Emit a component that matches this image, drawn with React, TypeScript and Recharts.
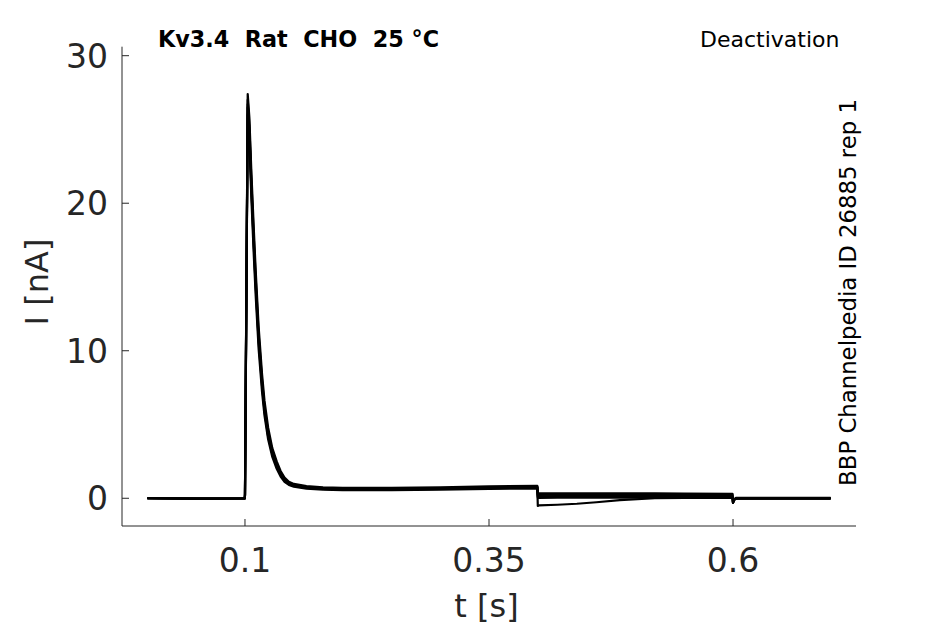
import React from 'react';
import { LineChart, Line, XAxis, YAxis } from 'recharts';

const tValues = [0, 0.05, 0.0998, 0.1, 0.1028, 0.1045, 0.1065, 0.109, 0.111, 0.114, 0.1175, 0.12, 0.1237, 0.128, 0.1325, 0.1365, 0.1405, 0.145, 0.15, 0.163, 0.18, 0.2, 0.25, 0.3, 0.35, 0.3995, 0.4, 0.401, 0.42, 0.44, 0.46, 0.484, 0.52, 0.55, 0.5995, 0.6, 0.601, 0.603, 0.65, 0.7];

const traceA = [0, -0.02, 0, 0.3, 27.4, 25.8, 22.2, 18.3, 15.4, 11.6, 8.4, 6.6, 4.8, 3.4, 2.5, 1.85, 1.4, 1.12, 0.97, 0.82, 0.74, 0.7, 0.7, 0.74, 0.8, 0.85, 0.34, 0.33, 0.34, 0.34, 0.33, 0.33, 0.33, 0.32, 0.3, -0.3, -0.1, 0.03, 0.03, 0.02];
const traceB = [0, -0.03, -0.01, 0.25, 27.0, 25.3, 21.6, 17.7, 14.9, 11.1, 8.0, 6.2, 4.5, 3.2, 2.3, 1.7, 1.3, 1.04, 0.9, 0.76, 0.68, 0.64, 0.64, 0.68, 0.74, 0.78, 0.24, 0.23, 0.24, 0.24, 0.24, 0.23, 0.23, 0.22, 0.21, -0.28, -0.1, 0.0, 0.0, 0.0];
const traceC = [0, -0.02, -0.01, 0.2, 26.5, 24.7, 21.0, 17.1, 14.3, 10.6, 7.6, 5.9, 4.2, 3.0, 2.15, 1.58, 1.2, 0.96, 0.84, 0.7, 0.63, 0.59, 0.59, 0.63, 0.69, 0.72, 0.14, 0.13, 0.14, 0.14, 0.14, 0.14, 0.13, 0.13, 0.12, -0.3, -0.12, -0.02, -0.02, -0.02];
const traceD = [0, -0.03, -0.02, 0.2, 26.0, 24.1, 20.4, 16.5, 13.7, 10.1, 7.2, 5.6, 4.0, 2.8, 2.0, 1.47, 1.12, 0.9, 0.78, 0.65, 0.58, 0.55, 0.55, 0.59, 0.64, 0.67, 0.04, 0.03, 0.04, 0.04, 0.04, 0.04, 0.04, 0.03, 0.03, -0.32, -0.12, -0.03, -0.03, -0.03];
const traceE = [0, -0.02, 0, 0.22, 26.7, 24.9, 21.2, 17.3, 14.5, 10.8, 7.8, 6.0, 4.3, 3.05, 2.2, 1.62, 1.24, 0.99, 0.86, 0.72, 0.65, 0.61, 0.62, 0.66, 0.72, 0.75, -0.52, -0.48, -0.44, -0.37, -0.27, -0.12, 0.0, 0.02, 0.03, -0.3, -0.1, 0.0, 0.0, 0.0];

const xTicks = [0.1, 0.35, 0.6];
const yTicks = [0, 10, 20, 30];
const seriesKeys = ['a', 'b', 'c', 'd', 'e'];

const data = tValues.map((t, i) => ({
  t,
  a: traceA[i],
  b: traceB[i],
  c: traceC[i],
  d: traceD[i],
  e: traceE[i],
}));

const AXIS = '#262626';
const FONT = '"DejaVu Sans", Verdana, sans-serif';

const XTick = (props: any) => {
  const { x, y, payload } = props;
  return (
    <g>
      <line x1={x} x2={x} y1={y} y2={y - 7} stroke={AXIS} strokeWidth={1} />
      <text x={x} y={y + 45.7} textAnchor="middle" fontSize={33} fill={AXIS} fontFamily={FONT}>
        {String(payload.value)}
      </text>
    </g>
  );
};

const YTick = (props: any) => {
  const { x, y, payload } = props;
  return (
    <g>
      <line x1={x} x2={x + 7} y1={y} y2={y} stroke={AXIS} strokeWidth={1} />
      <text x={x - 14} y={y + 12} textAnchor="end" fontSize={33} fill={AXIS} fontFamily={FONT}>
        {String(payload.value)}
      </text>
    </g>
  );
};

export default function App() {
  return (
    <div style={{ position: 'relative', width: 945, height: 624, background: '#fff' }}>
      <style>{`body{margin:0;}`}</style>
      <LineChart
        width={945}
        height={624}
        data={data}
        margin={{ top: 46.7, right: 89, bottom: 97, left: 121 }}
      >
        <XAxis
          dataKey="t"
          type="number"
          domain={[-0.026, 0.726]}
          ticks={xTicks}
          allowDataOverflow
          height={1}
          tickSize={0}
          tickMargin={0}
          tickLine={false}
          axisLine={{ stroke: AXIS, strokeWidth: 1 }}
          tick={<XTick />}
          interval={0}
        />
        <YAxis
          type="number"
          domain={[-1.88, 30.61]}
          ticks={yTicks}
          allowDataOverflow
          width={1}
          tickSize={0}
          tickMargin={0}
          tickLine={false}
          axisLine={{ stroke: AXIS, strokeWidth: 1 }}
          tick={<YTick />}
          interval={0}
        />
        {seriesKeys.map((k) => (
          <Line
            key={k}
            type="linear"
            dataKey={k}
            stroke="#000"
            strokeWidth={2.2}
            dot={false}
            isAnimationActive={false}
            strokeLinejoin="round"
          />
        ))}
      </LineChart>
      <svg
        width={945}
        height={624}
        style={{ position: 'absolute', left: 0, top: 0, pointerEvents: 'none' }}
      >
        <text x={158} y={46.7} fontSize={22.3} fontWeight="bold" fill="#000" fontFamily={FONT} style={{ whiteSpace: 'pre' }}>
          {'Kv3.4  Rat  CHO  25 °C'}
        </text>
        <text x={839.5} y={46.7} fontSize={22} textAnchor="end" fill="#000" fontFamily={FONT}>
          Deactivation
        </text>
        <text
          transform="translate(855.5,292.5) rotate(-90)"
          fontSize={22.8}
          textAnchor="middle"
          fill="#000"
          fontFamily={FONT}
        >
          BBP Channelpedia ID 26885 rep 1
        </text>
        <text
          transform="translate(48,282) rotate(-90)"
          fontSize={32}
          textAnchor="middle"
          fill={AXIS}
          fontFamily={FONT}
        >
          I [nA]
        </text>
        <text x={486.5} y={617} fontSize={32} textAnchor="middle" fill={AXIS} fontFamily={FONT}>
          t [s]
        </text>
      </svg>
    </div>
  );
}
